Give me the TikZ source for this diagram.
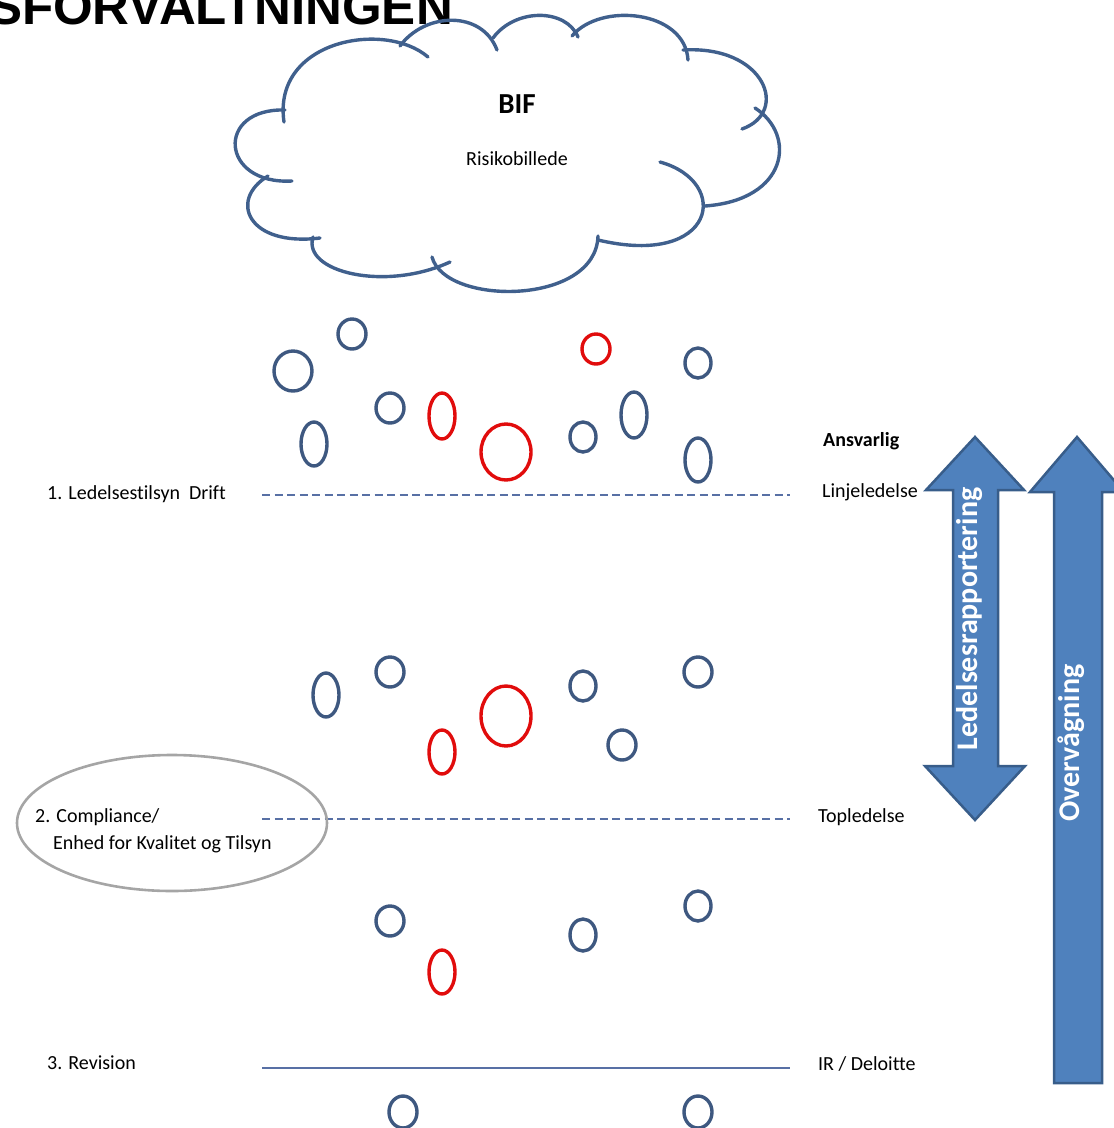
\documentclass[tikz,border=0pt]{standalone}
\usepackage{fontspec}
\setmainfont{Carlito}[Ligatures=NoCommon]
\newfontfamily\titlefont{Liberation Sans}
\definecolor{cloudblue}{RGB}{64,96,141}
\definecolor{circblue}{RGB}{62,88,128}
\definecolor{circred}{RGB}{225,12,12}
\definecolor{lineblue}{RGB}{88,112,165}
\definecolor{arrfill}{RGB}{79,129,189}
\definecolor{arrline}{RGB}{56,93,138}
\definecolor{ellgrey}{RGB}{165,165,165}
\begin{document}
\begin{tikzpicture}[x=1pt,y=-1pt,
  puff/.style={draw=cloudblue,line width=3.4pt,line cap=round},
  bub/.style={draw=circblue,line width=3.4pt},
  rbub/.style={draw=circred,line width=3.4pt},
  lbl/.style={inner sep=0pt,font=\fontsize{20}{24}\selectfont},
  dashline/.style={draw=lineblue,line width=2.6pt,dash pattern=on 8pt off 4.5pt},
  solidline/.style={draw=lineblue,line width=2pt},
  bigarrow/.style={fill=arrfill,draw=arrline,line width=2.5pt,line join=miter},
  arrtxt/.style={inner sep=0pt,text=white,rotate=90,font=\fontsize{30}{36}\selectfont\bfseries}]
\useasboundingbox (0,0) rectangle (1114,1128);
\clip (0,0) rectangle (1114,1128);
% title (cut off)
\node[inner sep=0pt,anchor=base east,font=\titlefont\bfseries\fontsize{51}{56}\selectfont] (title) at (453,24) {SFORVALTNINGEN};
% cloud
\draw[puff] (292,181) .. controls (220,185) and (215,108) .. (285,110);
\draw[puff] (284,122) .. controls (272,40) and (385,20) .. (428,57);
\draw[puff] (400,46) .. controls (425,12) and (482,10) .. (497,50);
\draw[puff] (493,38) .. controls (515,8) and (566,8) .. (578,37);
\draw[puff] (572,36) .. controls (600,2) and (685,10) .. (688,60);
\draw[puff] (683,50) .. controls (765,45) and (790,112) .. (742,129);
\draw[puff] (755,108) .. controls (797,135) and (788,200) .. (705,206);
\draw[puff] (660,162) .. controls (732,182) and (716,268) .. (598,240);
\draw[puff] (598,236) .. controls (596,306) and (445,306) .. (432,257);
\draw[puff] (450,262) .. controls (385,292) and (302,272) .. (313,237);
\draw[puff] (268,176) .. controls (228,200) and (248,247) .. (320,238);
\node[inner sep=0pt,font=\fontsize{29}{34}\selectfont\bfseries] (bif) at (517,104) {BIF};
\node[inner sep=0pt,font=\fontsize{20}{24}\selectfont] (risk) at (517,159) {Risikobillede};
% top bubbles
\draw[bub] (293,371) ellipse [x radius=19pt, y radius=20pt];
\draw[bub] (352,334) ellipse [x radius=14pt, y radius=15pt];
\draw[bub] (390,408) ellipse [x radius=14pt, y radius=15pt];
\draw[bub] (314,444) ellipse [x radius=13pt, y radius=22pt];
\draw[rbub] (442,416) ellipse [x radius=13pt, y radius=23pt];
\draw[rbub] (506,452) ellipse [x radius=25pt, y radius=28pt];
\draw[rbub] (596,349) ellipse [x radius=14pt, y radius=15pt];
\draw[bub] (583,437) ellipse [x radius=13pt, y radius=15pt];
\draw[bub] (634,415) ellipse [x radius=13pt, y radius=23pt];
\draw[bub] (698,363) ellipse [x radius=13pt, y radius=15pt];
\draw[bub] (698,460) ellipse [x radius=13pt, y radius=22pt];
% middle bubbles
\draw[bub] (326,695) ellipse [x radius=13pt, y radius=22pt];
\draw[bub] (390,672) ellipse [x radius=14pt, y radius=15pt];
\draw[rbub] (442,752) ellipse [x radius=13pt, y radius=22pt];
\draw[rbub] (506,716) ellipse [x radius=25pt, y radius=30pt];
\draw[bub] (583,686) ellipse [x radius=13pt, y radius=15pt];
\draw[bub] (622,745) ellipse [x radius=14pt, y radius=15pt];
\draw[bub] (698,672) ellipse [x radius=14pt, y radius=15pt];
% bottom bubbles
\draw[bub] (390,921) ellipse [x radius=14pt, y radius=15pt];
\draw[rbub] (442,972) ellipse [x radius=13pt, y radius=22pt];
\draw[bub] (583,935) ellipse [x radius=13pt, y radius=16pt];
\draw[bub] (698,906) ellipse [x radius=13pt, y radius=15pt];
\draw[bub] (403,1112) ellipse [x radius=14pt, y radius=16pt];
\draw[bub] (698,1112) ellipse [x radius=14pt, y radius=16pt];
% level lines
\coordinate (l1a) at (262,495); \coordinate (l1b) at (790,495);
\coordinate (l2a) at (262,819); \coordinate (l2b) at (790,819);
\coordinate (l3a) at (262,1068); \coordinate (l3b) at (790,1068);
\draw[dashline] (l1a) -- (l1b);
\draw[dashline] (l2a) -- (l2b);
\draw[solidline] (l3a) -- (l3b);
% grey ellipse
\draw[draw=ellgrey,line width=2.6pt] (172,823) ellipse [x radius=155pt, y radius=68pt];
% left labels
\node[lbl,anchor=base west] (lab1) at (47,499) {1. Ledelsestilsyn\ \ Drift};
\node[lbl,anchor=base west] (lab2a) at (35,822) {2. Compliance/};
\node[lbl,anchor=base west] (lab2b) at (53,849) {Enhed for Kvalitet og Tilsyn};
\node[lbl,anchor=base west] (lab3) at (47,1069) {3. Revision};
% right labels
\node[lbl,anchor=base west,font=\fontsize{20}{24}\selectfont\bfseries] (ansv) at (823,446) {Ansvarlig};
\node[lbl,anchor=base west] (linj) at (822,497) {Linjeledelse};
\node[lbl,anchor=base west] (topl) at (818,822) {Topledelse};
\node[lbl,anchor=base west] (ir) at (818,1070) {IR / Deloitte};
% arrows
\draw[bigarrow] (975,437) -- (1024,490) -- (998,490) -- (998,766) -- (1025,766) -- (975,820)
  -- (925,766) -- (953,766) -- (953,490) -- (926,490) -- cycle;
\draw[bigarrow] (1077,437) -- (1124,492) -- (1102,492) -- (1102,1083) -- (1054,1083)
  -- (1054,492) -- (1030,492) -- cycle;
\node[arrtxt] (ledtxt) at (970,619) {Ledelsesrapportering};
\node[arrtxt] (ovtxt) at (1071,743) {Overvågning};
\end{tikzpicture}
\end{document}
